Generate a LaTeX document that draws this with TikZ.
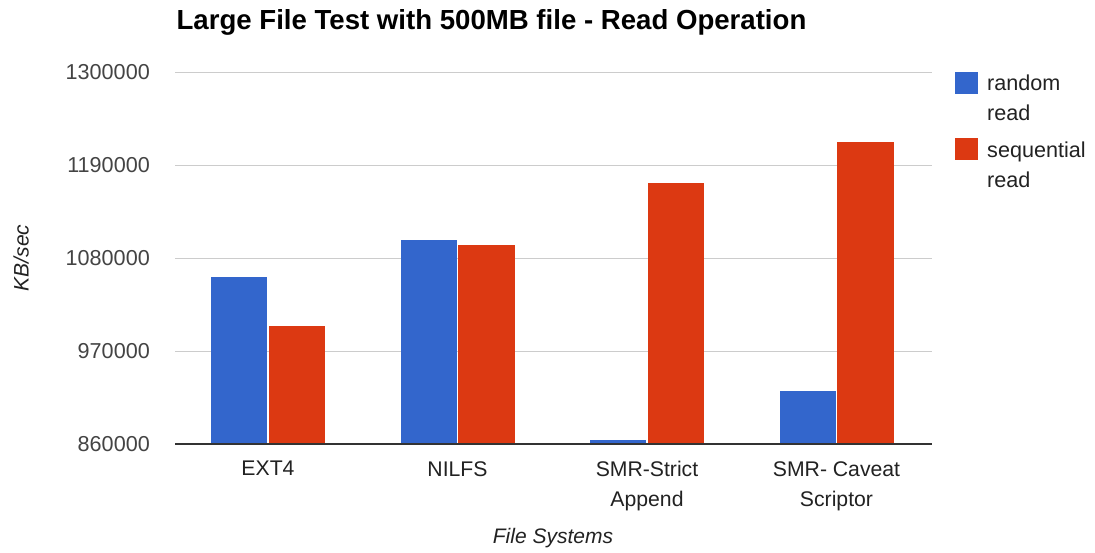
\documentclass[tikz,border=0pt]{standalone}
\usepackage{fontspec}
\setmainfont{Liberation Sans}
\definecolor{gblue}{HTML}{3366CC}
\definecolor{gred}{HTML}{DC3912}
\definecolor{grid}{HTML}{CCCCCC}
\definecolor{axisc}{HTML}{333333}
\definecolor{ticktxt}{HTML}{444444}
\definecolor{labtxt}{HTML}{222222}
\begin{document}
\begin{tikzpicture}[x=1pt,y=-1pt,
  gridline/.style={draw=grid,line width=1pt},
  ticklab/.style={anchor=east,text=ticktxt,font=\fontsize{21.6}{21.6}\selectfont,inner sep=0pt},
  catlab/.style={anchor=north,text=labtxt,font=\fontsize{21.2}{30}\selectfont,align=center,inner sep=0pt},
  bluebar/.style={fill=gblue,draw=none},
  redbar/.style={fill=gred,draw=none},
  legtxt/.style={anchor=west,text=labtxt,font=\fontsize{21.6}{29.5}\selectfont,align=left,inner sep=0pt}
]
\useasboundingbox[fill=white] (0,0) rectangle (1095,552);
% title
\node[font=\bfseries\fontsize{27.6}{27.6}\selectfont,inner sep=0pt] (title) at (491.5,22) {Large File Test with 500MB file - Read Operation};
% gridlines
\foreach \yy/\lab/\nm in {72/1300000/t1,165/1190000/t2,258/1080000/t3,351/970000/t4}{
  \draw[gridline] (175,\yy) -- (932,\yy);
  \node[ticklab] (\nm) at (150,\yy) {\lab};
}
\node[ticklab] (t5) at (150,444) {860000};
% bars: y(v) = 444 - (v-860000)*93/110000
\foreach \c/\b/\r in {268/1057/999.5,457.5/1101.3/1095.4,647/864.7/1168.4,836.5/922.7/1217.2}{
  \fill[bluebar] (\c-57,{444-0.845455*(\b-860)}) rectangle (\c-0.7,444);
  \fill[redbar] (\c+0.7,{444-0.845455*(\r-860)}) rectangle (\c+57,444);
}
% axis
\draw[draw=axisc,line width=1.3pt] (175,444) -- (932,444);
% category labels
\node[catlab] (c1) at (268,461) {EXT4};
\node[catlab] (c2) at (457.5,461) {NILFS};
\node[catlab] (c3) at (647,461) {SMR-Strict\\Append};
\node[catlab] (c4) at (836.5,461) {SMR- Caveat\\Scriptor};
% axis titles
\node[text=labtxt,font=\itshape\fontsize{21}{21}\selectfont,inner sep=0pt] (xt) at (553,538) {File Systems};
\node[text=labtxt,font=\itshape\fontsize{21}{21}\selectfont,inner sep=0pt,rotate=90] (yt) at (21,258) {KB/sec};
% legend
\fill[gblue] (955,72) rectangle (978,94);
\fill[gred] (955,138) rectangle (978,160);
\node[legtxt,anchor=north west] (l1) at (987,75) {random\\read};
\node[legtxt,anchor=north west] (l2) at (987,142) {sequential\\read};
\end{tikzpicture}
\end{document}
